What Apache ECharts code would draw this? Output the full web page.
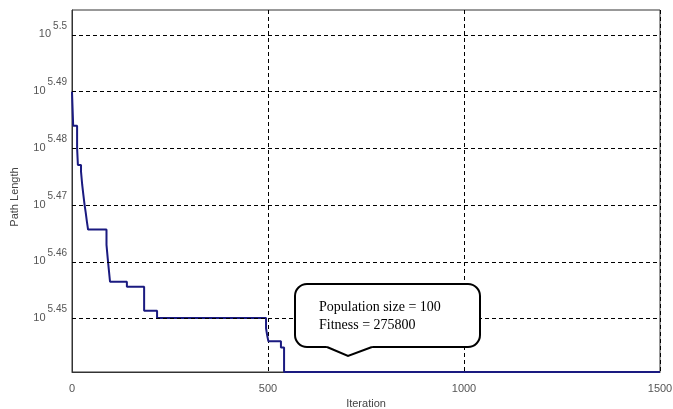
<!DOCTYPE html>
<html>
<head>
<meta charset="utf-8">
<script src="https://cdn.jsdelivr.net/npm/echarts@6/dist/echarts.min.js"></script>
<style>
html,body{margin:0;padding:0;background:#fff;}
#chart{width:673px;height:409px;}
</style>
</head>
<body>
<div id="chart"></div>
<script>
// Iteration at which each best-path value starts (step data)
const iterations = [0, 3, 13, 15, 23, 26, 29, 32, 35, 38, 41, 88, 91, 94, 97, 140, 184, 217, 495, 498, 501, 533, 541, 1500];
// Path length as log10 exponent (axis labelled 10^x)
const pathLengthExp = [5.4900, 5.4840, 5.4801, 5.4771, 5.4759, 5.4736, 5.4718, 5.4701, 5.4687, 5.4671, 5.4657, 5.4630, 5.4607, 5.4586, 5.4565, 5.4556, 5.4514, 5.4501, 5.4483, 5.4470, 5.4460, 5.4449, 5.44059, 5.44059];
const yTickExp = [5.45, 5.46, 5.47, 5.48, 5.49, 5.5];
const xTicks = [0, 500, 1000, 1500];
const yMinExp = 5.44059;
const yMaxExp = 5.5044;
const calloutLines = ['Population size = 100', 'Fitness = 275800'];

const chart = echarts.init(document.getElementById('chart'));
const seriesData = iterations.map((it, i) => [it, pathLengthExp[i]]);

chart.setOption({
  animation: false,
  backgroundColor: '#fff',
  grid: {left: 72, right: 13, top: 10, bottom: 37, containLabel: false, outerBoundsMode: 'none',
         show: true, borderColor: '#333', borderWidth: 1, backgroundColor: 'transparent'},
  xAxis: {
    type: 'value', min: 0, max: 1500, interval: 500,
    name: 'Iteration', nameLocation: 'middle', nameGap: 26,
    nameTextStyle: {fontFamily: 'Liberation Sans', fontSize: 11, color: '#444'},
    axisLine: {show: true, lineStyle: {color: '#333', width: 1}},
    axisTick: {show: false},
    axisLabel: {fontFamily: 'Liberation Sans', fontSize: 11, color: '#555', margin: 11,
      formatter: v => String(v)},
    splitLine: {show: true, lineStyle: {color: '#000', type: [4, 3], width: 1}}
  },
  yAxis: {
    type: 'value', min: yMinExp, max: yMaxExp,
    name: 'Path Length', nameLocation: 'middle', nameGap: 52, nameRotate: 90,
    nameTextStyle: {fontFamily: 'Liberation Sans', fontSize: 11, color: '#444', padding: [0, 12, 0, 0]},
    axisLine: {show: true, lineStyle: {color: '#333', width: 1}},
    axisTick: {show: false, customValues: yTickExp},
    splitLine: {show: false},
    axisLabel: {
      customValues: yTickExp, margin: 5,
      formatter: v => '{b|10}{s|' + (+v.toFixed(2)) + '}',
      rich: {
        b: {fontFamily: 'Liberation Sans', fontSize: 11, color: '#555', verticalAlign: 'bottom', lineHeight: 22, padding: [0, 0, 6, 0]},
        s: {fontFamily: 'Liberation Sans', fontSize: 10, color: '#555', verticalAlign: 'bottom', lineHeight: 22, padding: [0, 0, 15, 2]}
      }
    }
  },
  series: [{
    type: 'line', step: 'end', data: seriesData, symbol: 'none',
    lineStyle: {color: '#1a1a80', width: 2},
    markLine: {
      silent: true, symbol: 'none', label: {show: false},
      lineStyle: {color: '#000', type: [4, 3], width: 1},
      data: yTickExp.map(v => ({yAxis: v}))
    },
    z: 3
  }],
  graphic: [
    {type: 'rect', z: 10, shape: {x: 295, y: 284, width: 185, height: 63, r: 12},
     style: {fill: '#fff', stroke: '#000', lineWidth: 2}},
    {type: 'polygon', z: 11, shape: {points: [[326, 344], [373, 344], [372, 347], [348, 356], [327, 347]]},
     style: {fill: '#fff', stroke: null}},
    {type: 'polyline', z: 12, shape: {points: [[327, 347], [348, 356], [372, 347]]},
     style: {fill: null, stroke: '#000', lineWidth: 2}},
    {type: 'text', z: 13, x: 319, y: 307, style: {text: calloutLines[0], font: '14px "Liberation Serif"', fill: '#000', verticalAlign: 'middle'}},
    {type: 'text', z: 13, x: 319, y: 325, style: {text: calloutLines[1], font: '14px "Liberation Serif"', fill: '#000', verticalAlign: 'middle'}}
  ]
});
</script>
</body>
</html>
